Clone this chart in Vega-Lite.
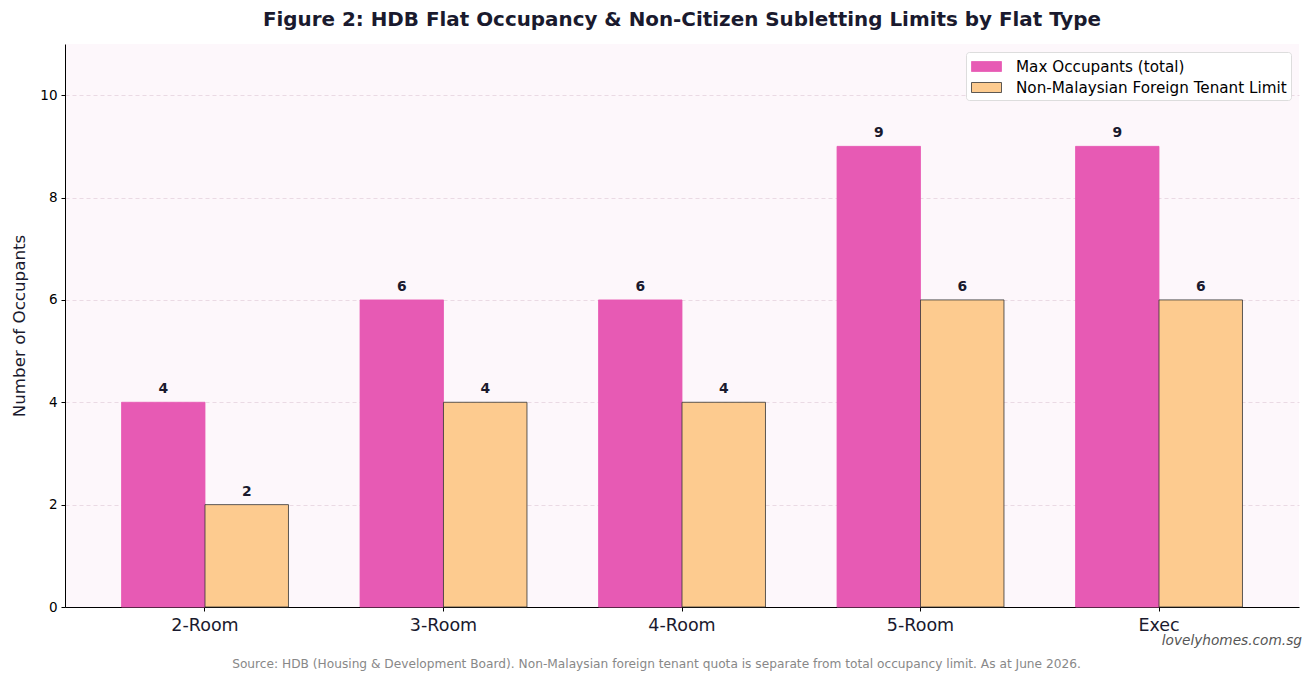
{
  "$schema": "https://vega.github.io/schema/vega-lite/v6.json",
  "autosize": {"type": "none"},
  "width": 1234,
  "height": 563,
  "padding": {"left": 65, "top": 44, "right": 14, "bottom": 74},
  "background": "#ffffff",
  "config": {
    "font": "DejaVu Sans",
    "view": {"fill": "#fdf7fb", "stroke": null}
  },
  "title": {
    "text": "Figure 2: HDB Flat Occupancy & Non-Citizen Subletting Limits by Flat Type",
    "fontSize": 19.9,
    "fontWeight": "bold",
    "color": "#1a1a2e",
    "anchor": "middle",
    "offset": 14
  },
  "data": {
    "values": [
      {"flat": "2-Room", "series": "Max Occupants (total)", "value": 4},
      {"flat": "2-Room", "series": "Non-Malaysian Foreign Tenant Limit", "value": 2},
      {"flat": "3-Room", "series": "Max Occupants (total)", "value": 6},
      {"flat": "3-Room", "series": "Non-Malaysian Foreign Tenant Limit", "value": 4},
      {"flat": "4-Room", "series": "Max Occupants (total)", "value": 6},
      {"flat": "4-Room", "series": "Non-Malaysian Foreign Tenant Limit", "value": 4},
      {"flat": "5-Room", "series": "Max Occupants (total)", "value": 9},
      {"flat": "5-Room", "series": "Non-Malaysian Foreign Tenant Limit", "value": 6},
      {"flat": "Exec", "series": "Max Occupants (total)", "value": 9},
      {"flat": "Exec", "series": "Non-Malaysian Foreign Tenant Limit", "value": 6}
    ]
  },
  "encoding": {
    "x": {
      "field": "flat",
      "type": "nominal",
      "sort": null,
      "scale": {"paddingInner": 0.3, "paddingOuter": 0.237},
      "axis": {
        "title": "Source: HDB (Housing & Development Board). Non-Malaysian foreign tenant quota is separate from total occupancy limit. As at June 2026.",
        "titleFontSize": 12.2,
        "titleFontWeight": "normal",
        "titleColor": "#888888",
        "titleX": 591,
        "titleY": 50,
        "titleAnchor": "middle",
        "labelAngle": 0,
        "labelFontSize": 17.5,
        "labelColor": "#1a1a2e",
        "labelPadding": 5,
        "domainColor": "#000000",
        "domainWidth": 1,
        "tickColor": "#000000",
        "tickSize": 4,
        "grid": false
      }
    },
    "y": {
      "type": "quantitative",
      "scale": {"domain": [0, 11], "nice": false},
      "axis": {
        "title": "Number of Occupants",
        "titleFontSize": 16.7,
        "titleFontWeight": "normal",
        "titleColor": "#1a1a2e",
        "titlePadding": 11,
        "values": [0, 2, 4, 6, 8, 10],
        "labelFontSize": 13.5,
        "labelColor": "#000000",
        "labelPadding": 4,
        "domainColor": "#000000",
        "tickColor": "#000000",
        "tickSize": 4,
        "grid": true,
        "gridColor": "#e4d2de",
        "gridDash": [4, 3],
        "gridWidth": 0.8
      }
    }
  },
  "layer": [
    {
      "mark": {"type": "bar", "strokeWidth": 0.8},
      "encoding": {
        "y": {"field": "value"},
        "xOffset": {"field": "series", "type": "nominal"},
        "color": {
          "field": "series",
          "type": "nominal",
          "scale": {"range": ["#e75ab4", "#fdcb8f"]},
          "legend": {
            "title": null,
            "orient": "top-right",
            "offset": 8,
            "fillColor": "#ffffff",
            "strokeColor": "#dddddd",
            "cornerRadius": 3,
            "padding": 4,
            "labelFontSize": 15.2,
            "labelColor": "#000000",
            "labelLimit": 500,
            "symbolType": "M-1.5,-0.5h3v1h-3z",
            "symbolSize": 400,
            "symbolOffset": 6,
            "symbolStrokeWidth": 0.8,
            "rowPadding": 2,
            "labelOffset": 19
          }
        },
        "stroke": {
          "field": "series",
          "type": "nominal",
          "scale": {"range": ["#e75ab4", "#333333"]},
          "legend": null
        }
      }
    },
    {
      "mark": {"type": "text", "dy": -9, "fontSize": 13.9, "fontWeight": "bold", "color": "#1a1a2e", "baseline": "alphabetic"},
      "encoding": {
        "y": {"field": "value"},
        "xOffset": {"field": "series", "type": "nominal"},
        "text": {"field": "value", "type": "quantitative"}
      }
    },
    {
      "data": {"values": [{"site": "lovelyhomes.com.sg"}]},
      "mark": {"type": "text", "align": "right", "baseline": "middle", "fontSize": 13.7, "fontStyle": "italic", "color": "#555555", "dx": 143},
      "encoding": {
        "x": {"datum": "Exec"},
        "y": {"datum": -0.66},
        "text": {"field": "site"}
      }
    }
  ]
}
